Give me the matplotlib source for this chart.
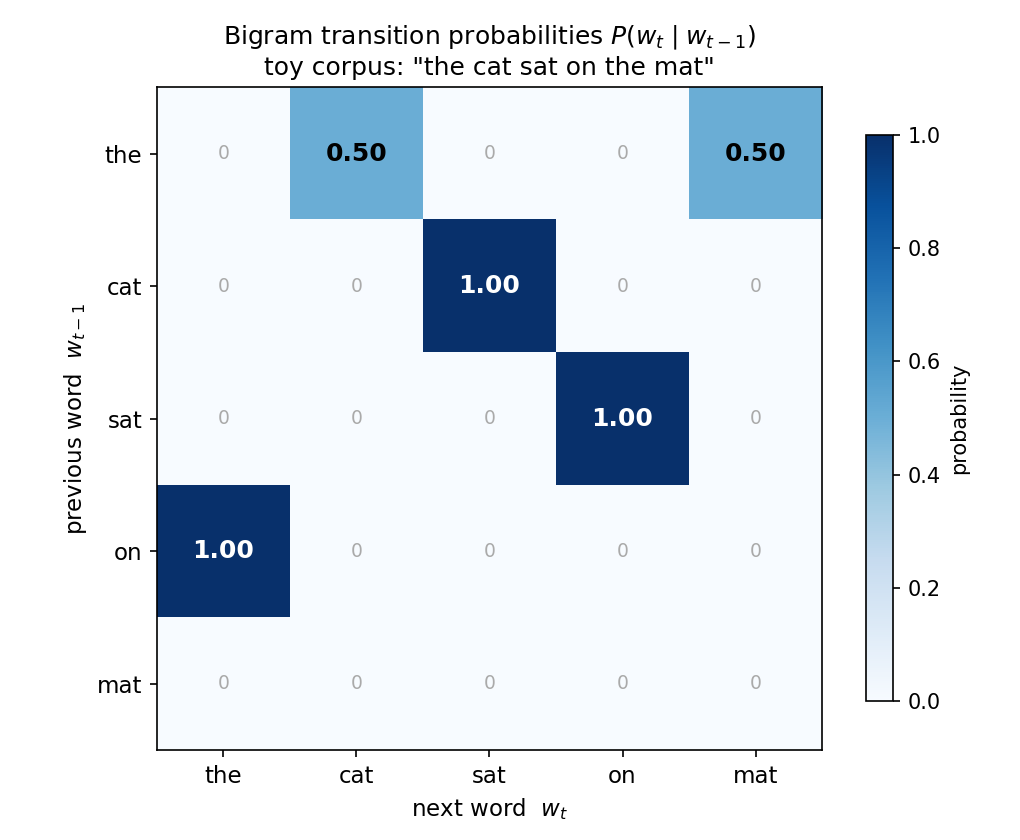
import numpy as np
import matplotlib.pyplot as plt

words = ["the", "cat", "sat", "on", "mat"]
probs = np.array([
    [0.0, 0.5, 0.0, 0.0, 0.5],
    [0.0, 0.0, 1.0, 0.0, 0.0],
    [0.0, 0.0, 0.0, 1.0, 0.0],
    [1.0, 0.0, 0.0, 0.0, 0.0],
    [0.0, 0.0, 0.0, 0.0, 0.0],
])

fig = plt.figure(figsize=(6.8, 5.6), dpi=150)
ax = fig.add_axes([0.1539, 0.1071, 0.652, 0.789])
im = ax.imshow(probs, cmap="Blues", vmin=0, vmax=1, aspect="auto")

ax.set_xticks(range(len(words)))
ax.set_yticks(range(len(words)))
ax.set_xticklabels(words, fontsize=11)
ax.set_yticklabels(words, fontsize=11)
ax.set_xlabel(r"next word  $w_t$", fontsize=11)
ax.set_ylabel(r"previous word  $w_{t-1}$", fontsize=11)
ax.set_title("Bigram transition probabilities $P(w_t\\mid w_{t-1})$\n"
             'toy corpus: "the cat sat on the mat"', fontsize=12)

# cell labels
for i in range(len(words)):
    for j in range(len(words)):
        p = probs[i, j]
        if p > 0:
            ax.text(j, i, f"{p:.2f}", ha="center", va="center", fontsize=12,
                    fontweight="bold", color="white" if p > 0.6 else "black")
        else:
            ax.text(j, i, "0", ha="center", va="center", fontsize=9, color="#aaaaaa")

cax = fig.add_axes([0.849, 0.1655, 0.0265, 0.674])
cb = fig.colorbar(im, cax=cax)
cb.set_label("probability", fontsize=10)
cb.ax.tick_params(labelsize=10)

fig.savefig("out.png", dpi=150)
